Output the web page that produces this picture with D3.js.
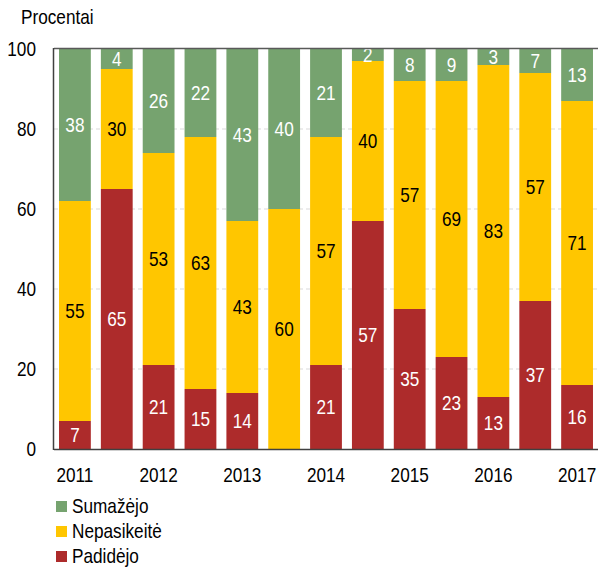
<!DOCTYPE html>
<html><head><meta charset="utf-8">
<script src="https://cdn.jsdelivr.net/npm/d3@7"></script>
<style>body{margin:0;background:#fff}svg{display:block}text{font-family:"Liberation Sans Narrow","Arial Narrow","Liberation Sans",Arial,sans-serif}</style>
</head><body><svg id="c" width="598" height="570"></svg>
<script>
const categories = ["2011","2011b","2012","2012b","2013","2013b","2014","2014b","2015","2015b","2016","2016b","2017"];
const tickLabels = ["2011","","2012","","2013","","2014","","2015","","2016","","2017"];
const padidejo    = [7,65,21,15,14,0,21,57,35,23,13,37,16];
const nepasikeite = [55,30,53,63,43,60,57,40,57,69,83,57,71];
const sumazejo    = [38,4,26,22,43,40,21,2,8,9,3,7,13];
const yTicks = [0,20,40,60,80,100];
const seriesNames = ["Sumažėjo","Nepasikeitė","Padidėjo"];
const colors = {"Sumažėjo":"#76a36f","Nepasikeitė":"#ffc600","Padidėjo":"#ad2b2b"};
const textColors = {"Sumažėjo":"#fff","Nepasikeitė":"#000","Padidėjo":"#fff"};
const FS = 20, SX = 0.86;

const svg = d3.select("#c");
const L = 54, R = 598, T = 49, B = 449;
const x = d3.scaleBand().domain(categories).range([L, R]).paddingInner(0.24).paddingOuter(0.12);
const y = d3.scaleLinear().domain([0,100]).range([B, T]);
const pos = (fx, fy) => (d,i) => `translate(${fx(d,i)},${fy(d,i)}) scale(${SX},1)`;

// gridlines
svg.append("g").selectAll("line").data(yTicks.filter(d=>d>0 && d<100)).join("line")
  .attr("x1", L).attr("x2", R).attr("y1", d=>y(d)).attr("y2", d=>y(d))
  .attr("stroke","#d9d9d9").attr("stroke-width",1).attr("stroke-dasharray","4,3");

// segments
const segs = [];
categories.forEach((c,i)=>{
  const r = padidejo[i], n = nepasikeite[i], s = sumazejo[i];
  segs.push({c, name:"Padidėjo", v:r, y0:0, y1:r});
  segs.push({c, name:"Nepasikeitė", v:n, y0:r, y1:r+n});
  segs.push({c, name:"Sumažėjo", v:s, y0:r+n, y1:100});
});
const g = svg.append("g");
g.selectAll("rect").data(segs.filter(d=>d.v>0)).join("rect")
  .attr("x", d=>x(d.c)).attr("width", x.bandwidth())
  .attr("y", d=>y(Math.min(100,d.y1))).attr("height", d=>Math.max(0,y(d.y0)-y(Math.min(100,d.y1))))
  .attr("fill", d=>colors[d.name]);

svg.append("defs").append("clipPath").attr("id","pc").append("rect")
  .attr("x",L).attr("y",T).attr("width",R-L).attr("height",B-T);
g.append("g").attr("clip-path","url(#pc)").selectAll("text").data(segs.filter(d=>d.v>0)).join("text")
  .attr("transform", pos(d=>x(d.c)+x.bandwidth()/2, d=>y((d.y0+Math.min(100,d.y1))/2)+7))
  .attr("text-anchor","middle").attr("font-size",FS)
  .attr("fill", d=>textColors[d.name]).text(d=>d.v);

// frame
svg.append("line").attr("x1",L).attr("x2",R).attr("y1",T-0.5).attr("y2",T-0.5).attr("stroke","#595959").attr("stroke-width",1.5);
svg.append("line").attr("x1",L).attr("x2",R).attr("y1",B+0.5).attr("y2",B+0.5).attr("stroke","#404040").attr("stroke-width",1.5);
svg.append("line").attr("x1",L-0.5).attr("x2",L-0.5).attr("y1",T-1).attr("y2",B+1).attr("stroke","#404040").attr("stroke-width",1.5);

// y tick labels
svg.append("g").selectAll("text").data(yTicks).join("text")
  .attr("transform", pos(()=>36, d=>y(d)+7)).attr("text-anchor","end").attr("font-size",FS).attr("fill","#000").text(d=>d);
svg.append("text").attr("transform", `translate(21,24) scale(${SX},1)`).attr("font-size",FS).attr("fill","#000").text("Procentai");

// x labels
svg.append("g").selectAll("text").data(categories).join("text")
  .attr("transform", pos(d=>x(d)+x.bandwidth()/2, ()=>482)).attr("text-anchor","middle")
  .attr("font-size",FS).attr("fill","#000").text((d,i)=>tickLabels[i]);

// legend
const lg = svg.append("g").selectAll("g").data(seriesNames).join("g")
  .attr("transform",(d,i)=>`translate(56,${501+i*25})`);
lg.append("rect").attr("width",11).attr("height",11).attr("fill",d=>colors[d]);
lg.append("text").attr("transform",`translate(16,12) scale(${SX},1)`).attr("font-size",FS).attr("fill","#000").text(d=>d);
</script></body></html>
